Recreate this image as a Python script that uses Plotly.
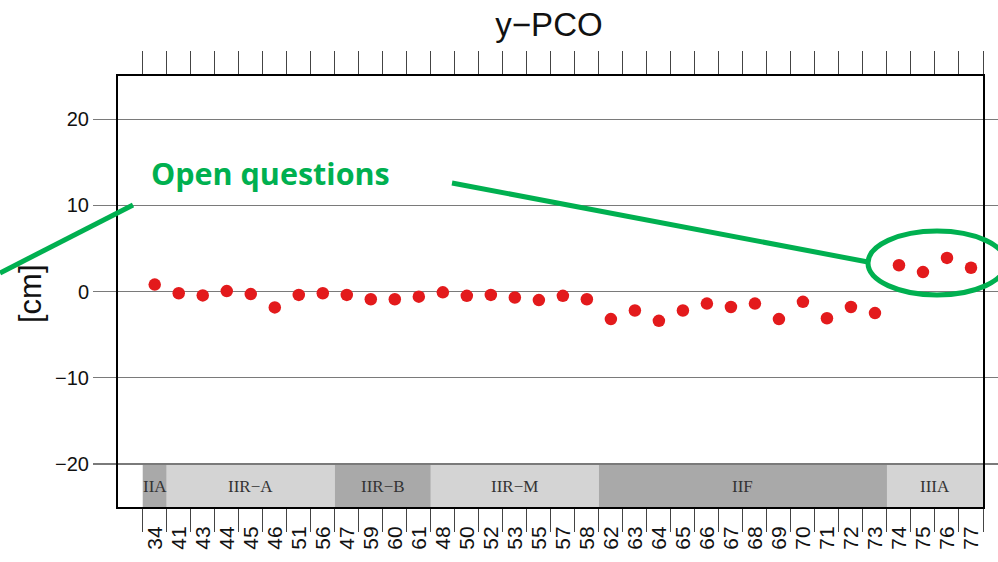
import plotly.graph_objects as go

# ---- data ----
categories = ["34", "41", "43", "44", "45", "46", "51", "56", "47", "59", "60", "61",
              "48", "50", "52", "53", "55", "57", "58", "62", "63", "64", "65", "66",
              "67", "68", "69", "70", "71", "72", "73", "74", "75", "76", "77"]
y_pco = [0.8, -0.2, -0.45, 0.05, -0.3, -1.85, -0.4, -0.2, -0.4, -0.9, -0.9, -0.6,
         -0.1, -0.5, -0.4, -0.7, -1.0, -0.5, -0.9, -3.2, -2.2, -3.4, -2.2, -1.4,
         -1.8, -1.4, -3.2, -1.2, -3.1, -1.8, -2.5, 3.05, 2.25, 3.9, 2.75]
block_names = ["IIA", "IIR\u2212A", "IIR\u2212B", "IIR\u2212M", "IIF", "IIIA"]
block_sizes = [1, 7, 4, 7, 12, 4]
block_shade = ["dark", "light", "dark", "light", "dark", "light"]
y_ticks = [-20, -10, 0, 10, 20]

W, H = 998, 562
ML, MR, MT, MB = 118, 15, 76, 55
PW, PH = W - ML - MR, H - MT - MB


def px(x):
    return (x - ML) / PW


def py(y):
    return (H - MB - y) / PH


GRID = "#7a7a7a"
GREEN = "#00B050"
shade_col = {"dark": "#A9A9A9", "light": "#D4D4D4"}

fig = go.Figure()
fig.add_trace(go.Scatter(
    x=categories, y=y_pco, mode="markers",
    marker=dict(color="#E31A1C", size=12.5, line=dict(width=0)),
    showlegend=False, cliponaxis=False, hoverinfo="skip"))

shapes = []
annotations = []
start = 0
for name, n, sh in zip(block_names, block_sizes, block_shade):
    x0 = start - 0.5
    x1 = start + n - 0.5
    shapes.append(dict(type="rect", xref="x", yref="y", x0=x0, x1=x1, y0=-25, y1=-20,
                       fillcolor=shade_col[sh], line=dict(width=0), layer="below"))
    annotations.append(dict(x=(x0 + x1) / 2, y=-22.6, xref="x", yref="y", text=name,
                            showarrow=False,
                            font=dict(family="Liberation Serif, Times New Roman, serif",
                                      size=17, color="#333333")))
    start += n

# green highlight shapes
shapes.append(dict(type="line", xref="paper", yref="paper",
                   x0=px(0), y0=py(273), x1=px(133), y1=py(205),
                   line=dict(color=GREEN, width=5)))
shapes.append(dict(type="line", xref="paper", yref="paper",
                   x0=px(452), y0=py(183), x1=px(868), y1=py(262),
                   line=dict(color=GREEN, width=5)))
shapes.append(dict(type="circle", xref="paper", yref="paper",
                   x0=px(868), x1=px(1006), y0=py(295), y1=py(231),
                   line=dict(color=GREEN, width=5)))

annotations.append(dict(x=px(149), y=py(173), xref="paper", yref="paper",
                        xanchor="left", yanchor="middle", text="<b>Open questions</b>",
                        showarrow=False,
                        font=dict(family="Open Sans, sans-serif", size=30.5, color=GREEN)))
annotations.append(dict(x=px(30), y=py(294), xref="paper", yref="paper",
                        xanchor="center", yanchor="middle",
                        text="[cm]", textangle=-90, showarrow=False,
                        font=dict(family="Liberation Sans, Arial, sans-serif", size=31,
                                  color="#111111")))

fig.update_layout(
    width=W, height=H, autosize=False,
    margin=dict(l=ML, r=MR, t=MT, b=MB, pad=0, autoexpand=False),
    paper_bgcolor="white", plot_bgcolor="white",
    font=dict(family="Liberation Sans, Arial, sans-serif", color="#111111"),
    title=dict(text="y\u2212PCO", x=px(549), xref="paper", xanchor="center",
               y=1 - 24 / H, yref="container", yanchor="middle", automargin=False,
               font=dict(size=33, color="#111111")),
    shapes=shapes, annotations=annotations,
    hovermode=False,
    xaxis=dict(type="category", range=[-1.53, 34.5], tickson="boundaries",
               tickmode="linear", tick0=0, dtick=1,
               ticks="outside", ticklen=23, tickwidth=1, tickcolor="#444444",
               tickangle=-90, tickfont=dict(size=21, color="#111111"),
               ticklabelstandoff=9,
               showline=True, linecolor="black", linewidth=2, mirror="ticks",
               showgrid=False, zeroline=False, fixedrange=True, automargin=False),
    yaxis=dict(range=[-25, 25], tickvals=y_ticks, ticks="outside", ticklen=23,
               tickwidth=1.2, tickcolor=GRID, tickfont=dict(size=20, color="#111111"),
               showline=True, linecolor="black", linewidth=2, mirror="ticks",
               showgrid=True, gridcolor=GRID, gridwidth=1.2, zeroline=False,
               fixedrange=True, automargin=False),
)

fig.write_html("out.html",
               config={"displayModeBar": False, "staticPlot": True},
               post_script="document.body.style.margin='0';"
                           "document.body.style.overflow='hidden';")
